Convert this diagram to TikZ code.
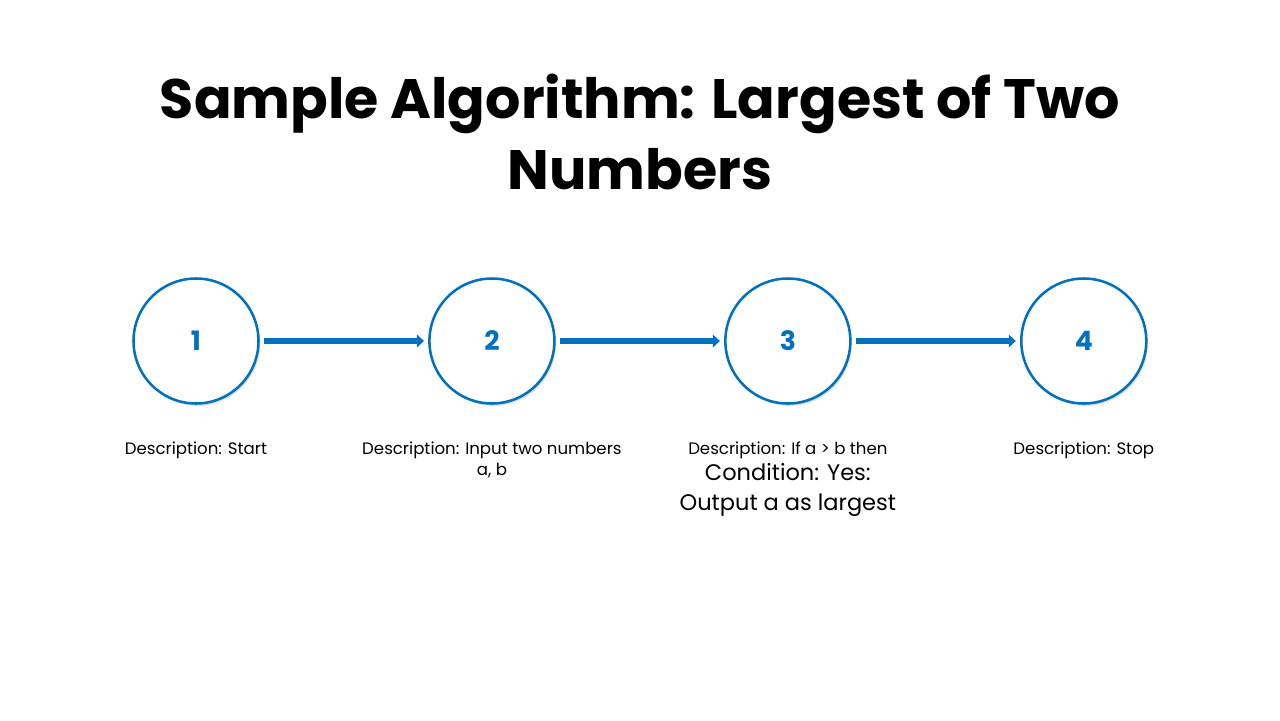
\documentclass[tikz,border=0pt]{standalone}
\usepackage{fontspec}
\setmainfont{Poppins}
\usetikzlibrary{arrows.meta, positioning, shadows}
\definecolor{stepblue}{HTML}{0070C0}

\begin{document}
\begin{tikzpicture}[
    stepcirc/.style={draw=stepblue,circle,line width=1.8pt,fill=white,minimum size=3.125cm,inner sep=0pt,
        node distance=4.21cm,text=stepblue,font=\fontsize{19}{19}\selectfont\bfseries,
        drop shadow={opacity=0.25,shadow xshift=0.04cm,shadow yshift=-0.06cm}},
    desc/.style={align=center,anchor=north,inner sep=0pt,font=\fontsize{11.8}{14.5}\selectfont},
    flow/.style={draw=stepblue,line width=3.6pt,-{Triangle[length=5pt,width=9pt]},shorten <=3pt,shorten >=3pt}]
    \useasboundingbox (0,0) rectangle (32,-18);
    \node (title) [align=center,font=\fontsize{39.5}{50}\selectfont\bfseries] at (16,-3.3) {Sample Algorithm: Largest of Two\\Numbers};
    \node (c1) [stepcirc] at (4.9,-8.525) {1};
    \node (c2) [stepcirc,right=of c1] {2};
    \node (c3) [stepcirc,right=of c2] {3};
    \node (c4) [stepcirc,right=of c3] {4};
    \node (d1) [desc,below=0.93cm of c1] {Description: Start};
    \node (d2) [desc,below=0.93cm of c2] {Description: Input two numbers\\a, b};
    \node (d3) [desc,below=0.93cm of c3] {Description: If a > b then\\[2pt]{\fontsize{16}{21}\selectfont Condition: Yes:}\\[7pt]{\fontsize{16}{21}\selectfont Output a as largest}};
    \node (d4) [desc,below=0.93cm of c4] {Description: Stop};
    \draw [flow] (c1) -- (c2);
    \draw [flow] (c2) -- (c3);
    \draw [flow] (c3) -- (c4);
\end{tikzpicture}
\end{document}
